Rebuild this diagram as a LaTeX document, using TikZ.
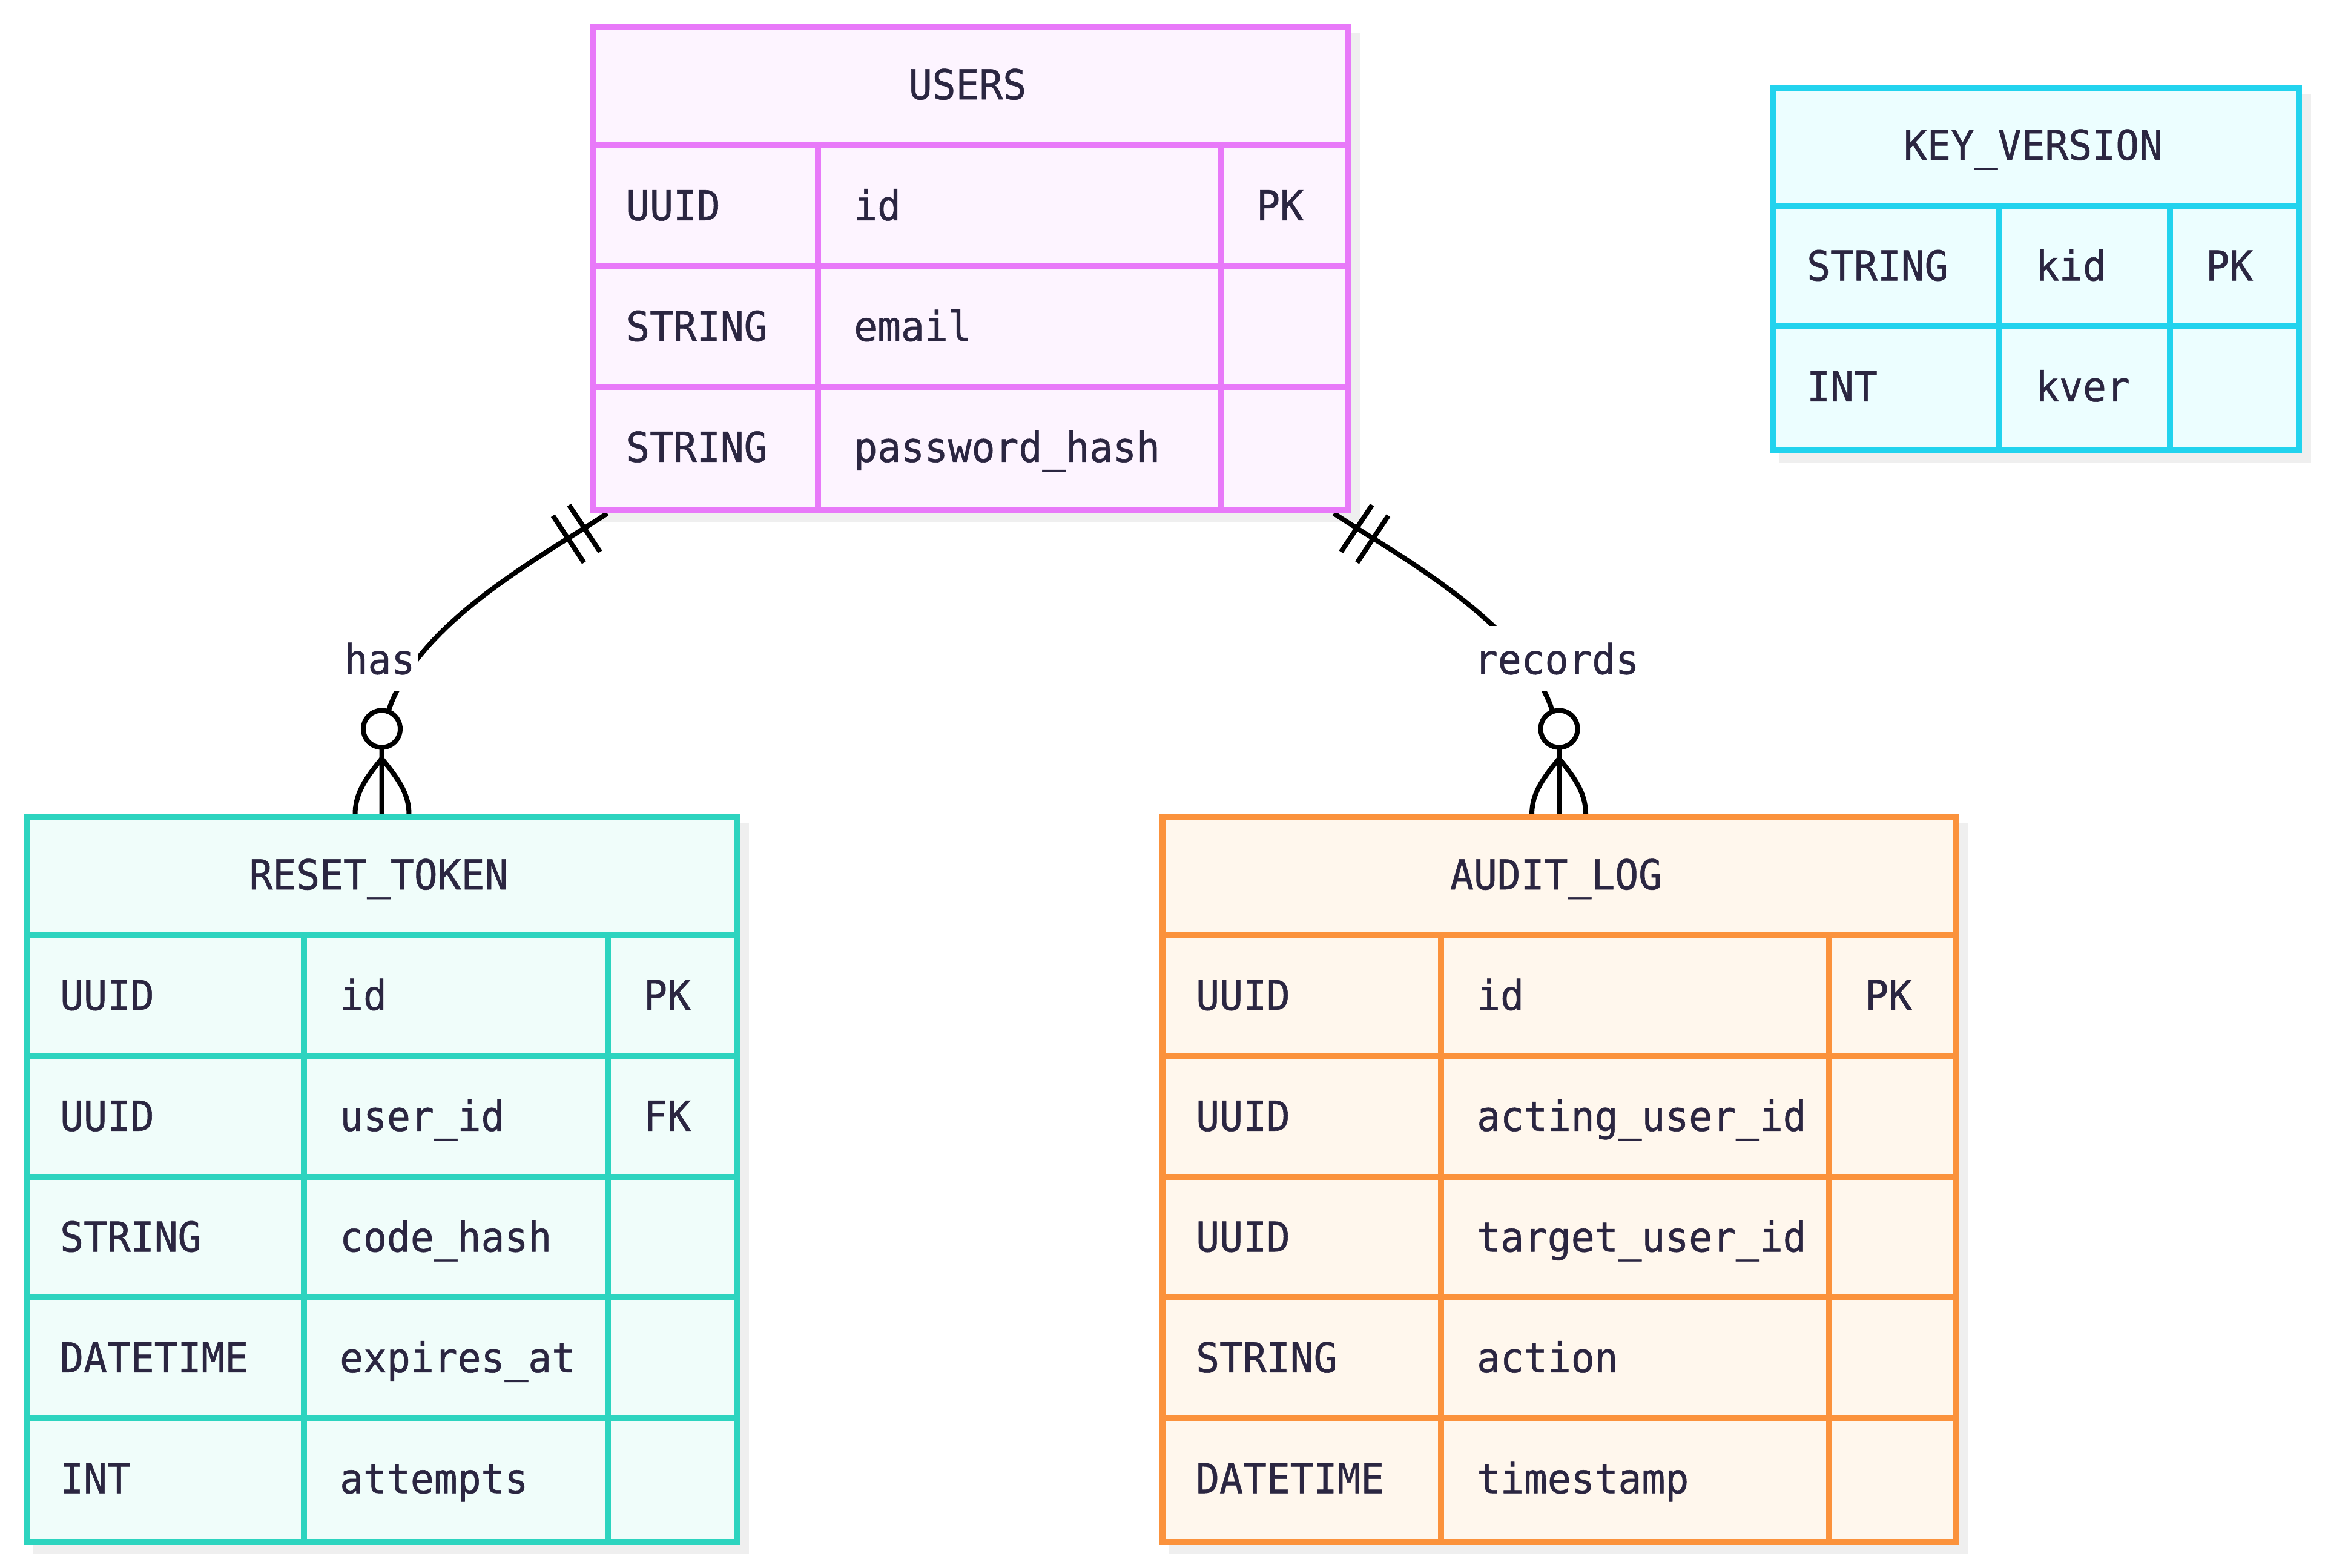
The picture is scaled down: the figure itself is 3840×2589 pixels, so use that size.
\documentclass[tikz,border=0pt]{standalone}
\usepackage{fontspec}
\setmonofont[FakeStretch=0.95,FakeBold=0.8]{DejaVu Sans Mono}
\usetikzlibrary{calc}
\pgfdeclarelayer{shadowlayer}
\pgfdeclarelayer{connlayer}
\pgfsetlayers{shadowlayer,connlayer,main}
\definecolor{txtc}{HTML}{2B2641}
\definecolor{usrB}{HTML}{E879F9}\definecolor{usrF}{HTML}{FDF4FF}
\definecolor{keyB}{HTML}{22D3EE}\definecolor{keyF}{HTML}{ECFEFF}
\definecolor{rtB}{HTML}{2DD4BF}\definecolor{rtF}{HTML}{F0FDFA}
\definecolor{alB}{HTML}{FB923C}\definecolor{alF}{HTML}{FFF7ED}
\definecolor{shad}{HTML}{EFEFEF}
\begin{document}
\begin{tikzpicture}[x=1pt,y=-1pt,
  celltxt/.style={text=txtc,font=\ttfamily\fontsize{68}{80}\selectfont,inner sep=0pt,anchor=base west},
  hdrtxt/.style={celltxt,anchor=base},
  gridln/.style={line width=10pt},
  tblbox/.style={line width=10pt,inner sep=0pt,anchor=north west},
  conn/.style={draw=black,line width=8pt},
  lblbox/.style={fill=white,text=txtc,font=\ttfamily\fontsize{68}{80}\selectfont,inner xsep=6pt,inner ysep=0pt,minimum height=108pt},
  circmark/.style={circle,draw=black,line width=8pt,fill=white,minimum size=61pt,inner sep=0pt}
]
\useasboundingbox (0,0) rectangle (3840,2589);

% ---------- background and shadows ----------
\begin{pgfonlayer}{shadowlayer}
\fill[white] (0,0) rectangle (3840,2589);
\fill[shad] (989,55) rectangle (2247,863);
\fill[shad] (2939,155) rectangle (3817,763.5);
\fill[shad] (54,1360) rectangle (1237,2567);
\fill[shad] (1930,1360) rectangle (3250,2567);
\end{pgfonlayer}

% ---------- USERS ----------
\node[tblbox,draw=usrB,fill=usrF,minimum width=1248pt,minimum height=798pt] (users) at (974,40) {};
\foreach \yy in {240,439.5,639} \draw[usrB,gridln] (974,\yy) -- (2222,\yy);
\draw[usrB,gridln] (1351,240) -- (1351,838);
\draw[usrB,gridln] (2016,240) -- (2016,838);
\node[tblbox,draw=usrB,minimum width=1248pt,minimum height=798pt] (usersframe) at (974,40) {};
\node[hdrtxt] (usersT) at (1598,164) {USERS};
\foreach \a/\b/\c [count=\i, evaluate=\i as \yb using 240+(\i-0.5)*199.5+24] in {UUID/id/PK,STRING/email/{},STRING/password\_hash/{}}{
  \node[celltxt] (u\i a) at (1034,\yb) {\a};
  \node[celltxt] (u\i b) at (1410,\yb) {\b};
  \node[celltxt] (u\i c) at (2075,\yb) {\c};
}

% ---------- KEY_VERSION ----------
\node[tblbox,draw=keyB,fill=keyF,minimum width=868pt,minimum height=598.5pt] (kv) at (2924,140) {};
\foreach \yy in {339.5,539} \draw[keyB,gridln] (2924,\yy) -- (3792,\yy);
\draw[keyB,gridln] (3302,339.5) -- (3302,738.5);
\draw[keyB,gridln] (3584,339.5) -- (3584,738.5);
\node[tblbox,draw=keyB,minimum width=868pt,minimum height=598.5pt] (kvframe) at (2924,140) {};
\node[hdrtxt] (kvT) at (3358,264) {KEY\_VERSION};
\foreach \a/\b/\c [count=\i, evaluate=\i as \yb using 339.5+(\i-0.5)*199.5+24] in {STRING/kid/PK,INT/kver/{}}{
  \node[celltxt] (k\i a) at (2984,\yb) {\a};
  \node[celltxt] (k\i b) at (3362,\yb) {\b};
  \node[celltxt] (k\i c) at (3643,\yb) {\c};
}

% ---------- RESET_TOKEN ----------
\node[tblbox,draw=rtB,fill=rtF,minimum width=1173pt,minimum height=1197pt] (rt) at (39,1345) {};
\foreach \yy in {1544.5,1744,1943.5,2143,2342.5} \draw[rtB,gridln] (39,\yy) -- (1212,\yy);
\draw[rtB,gridln] (502,1544.5) -- (502,2542);
\draw[rtB,gridln] (1004,1544.5) -- (1004,2542);
\node[tblbox,draw=rtB,minimum width=1173pt,minimum height=1197pt] (rtframe) at (39,1345) {};
\node[hdrtxt] (rtT) at (625.5,1469) {RESET\_TOKEN};
\foreach \a/\b/\c [count=\i, evaluate=\i as \yb using 1544.5+(\i-0.5)*199.5+24] in {UUID/id/PK,UUID/user\_id/FK,STRING/code\_hash/{},DATETIME/expires\_at/{},INT/attempts/{}}{
  \node[celltxt] (r\i a) at (99,\yb) {\a};
  \node[celltxt] (r\i b) at (561,\yb) {\b};
  \node[celltxt] (r\i c) at (1063,\yb) {\c};
}

% ---------- AUDIT_LOG ----------
\node[tblbox,draw=alB,fill=alF,minimum width=1310pt,minimum height=1197pt] (al) at (1915,1345) {};
\foreach \yy in {1544.5,1744,1943.5,2143,2342.5} \draw[alB,gridln] (1915,\yy) -- (3225,\yy);
\draw[alB,gridln] (2380,1544.5) -- (2380,2542);
\draw[alB,gridln] (3021,1544.5) -- (3021,2542);
\node[tblbox,draw=alB,minimum width=1310pt,minimum height=1197pt] (alframe) at (1915,1345) {};
\node[hdrtxt] (alT) at (2570,1469) {AUDIT\_LOG};
\foreach \a/\b/\c [count=\i, evaluate=\i as \yb using 1544.5+(\i-0.5)*199.5+24] in {UUID/id/PK,UUID/acting\_user\_id/{},UUID/target\_user\_id/{},STRING/action/{},DATETIME/timestamp/{}}{
  \node[celltxt] (a\i a) at (1975,\yb) {\a};
  \node[celltxt] (a\i b) at (2439,\yb) {\b};
  \node[celltxt] (a\i c) at (3080,\yb) {\c};
}

% ---------- connector: USERS has RESET_TOKEN ----------
\coordinate (hA) at ([xshift=29pt]users.south west);
\coordinate (hD) at ($(rt.north)+(0,-105)$);
\coordinate (hC1) at ($(hA)+(-119,79)$);
\coordinate (hC2) at ($(hD)+(0,-183)$);
\coordinate (hJ) at ($(rt.north)+(0,-92)$);
\begin{pgfonlayer}{connlayer}
\draw[conn] (hA) .. controls (hC1) and (hC2) .. (hD) -- (rt.north);
\draw[conn] (hJ) .. controls ($(hJ)+(-26,32)$) and ($(rt.north)+(-44,-35)$) .. ($(rt.north)+(-44,0)$);
\draw[conn] (hJ) .. controls ($(hJ)+(26,32)$) and ($(rt.north)+(45,-35)$) .. ($(rt.north)+(45,0)$);
\end{pgfonlayer}
\coordinate (hP1) at ($(hA)!45pt!(hC1)$);
\coordinate (hP2) at ($(hA)!77pt!(hC1)$);
\draw[conn] ($(hP1)!46.5pt!90:(hC1)$) -- ($(hP1)!46.5pt!-90:(hC1)$);
\draw[conn] ($(hP2)!46.5pt!90:(hC1)$) -- ($(hP2)!46.5pt!-90:(hC1)$);
\node[circmark] (hcirc) at ($(rt.north)+(0,-141)$) {};
\node[lblbox] (haslbl) at (627,1088) {has};

% ---------- connector: USERS records AUDIT_LOG ----------
\coordinate (rA) at ([xshift=-29pt]users.south east);
\coordinate (rD) at ($(al.north)+(0,-105)$);
\coordinate (rC1) at ($(rA)+(119,79)$);
\coordinate (rC2) at ($(rD)+(0,-183)$);
\coordinate (rJ) at ($(al.north)+(0,-92)$);
\begin{pgfonlayer}{connlayer}
\draw[conn] (rA) .. controls (rC1) and (rC2) .. (rD) -- (al.north);
\draw[conn] (rJ) .. controls ($(rJ)+(-26,32)$) and ($(al.north)+(-45,-35)$) .. ($(al.north)+(-45,0)$);
\draw[conn] (rJ) .. controls ($(rJ)+(26,32)$) and ($(al.north)+(44,-35)$) .. ($(al.north)+(44,0)$);
\end{pgfonlayer}
\coordinate (rP1) at ($(rA)!45pt!(rC1)$);
\coordinate (rP2) at ($(rA)!77pt!(rC1)$);
\draw[conn] ($(rP1)!46.5pt!90:(rC1)$) -- ($(rP1)!46.5pt!-90:(rC1)$);
\draw[conn] ($(rP2)!46.5pt!90:(rC1)$) -- ($(rP2)!46.5pt!-90:(rC1)$);
\node[circmark] (rcirc) at ($(al.north)+(0,-141)$) {};
\node[lblbox] (reclbl) at (2571,1088) {records};
\end{tikzpicture}
\end{document}
